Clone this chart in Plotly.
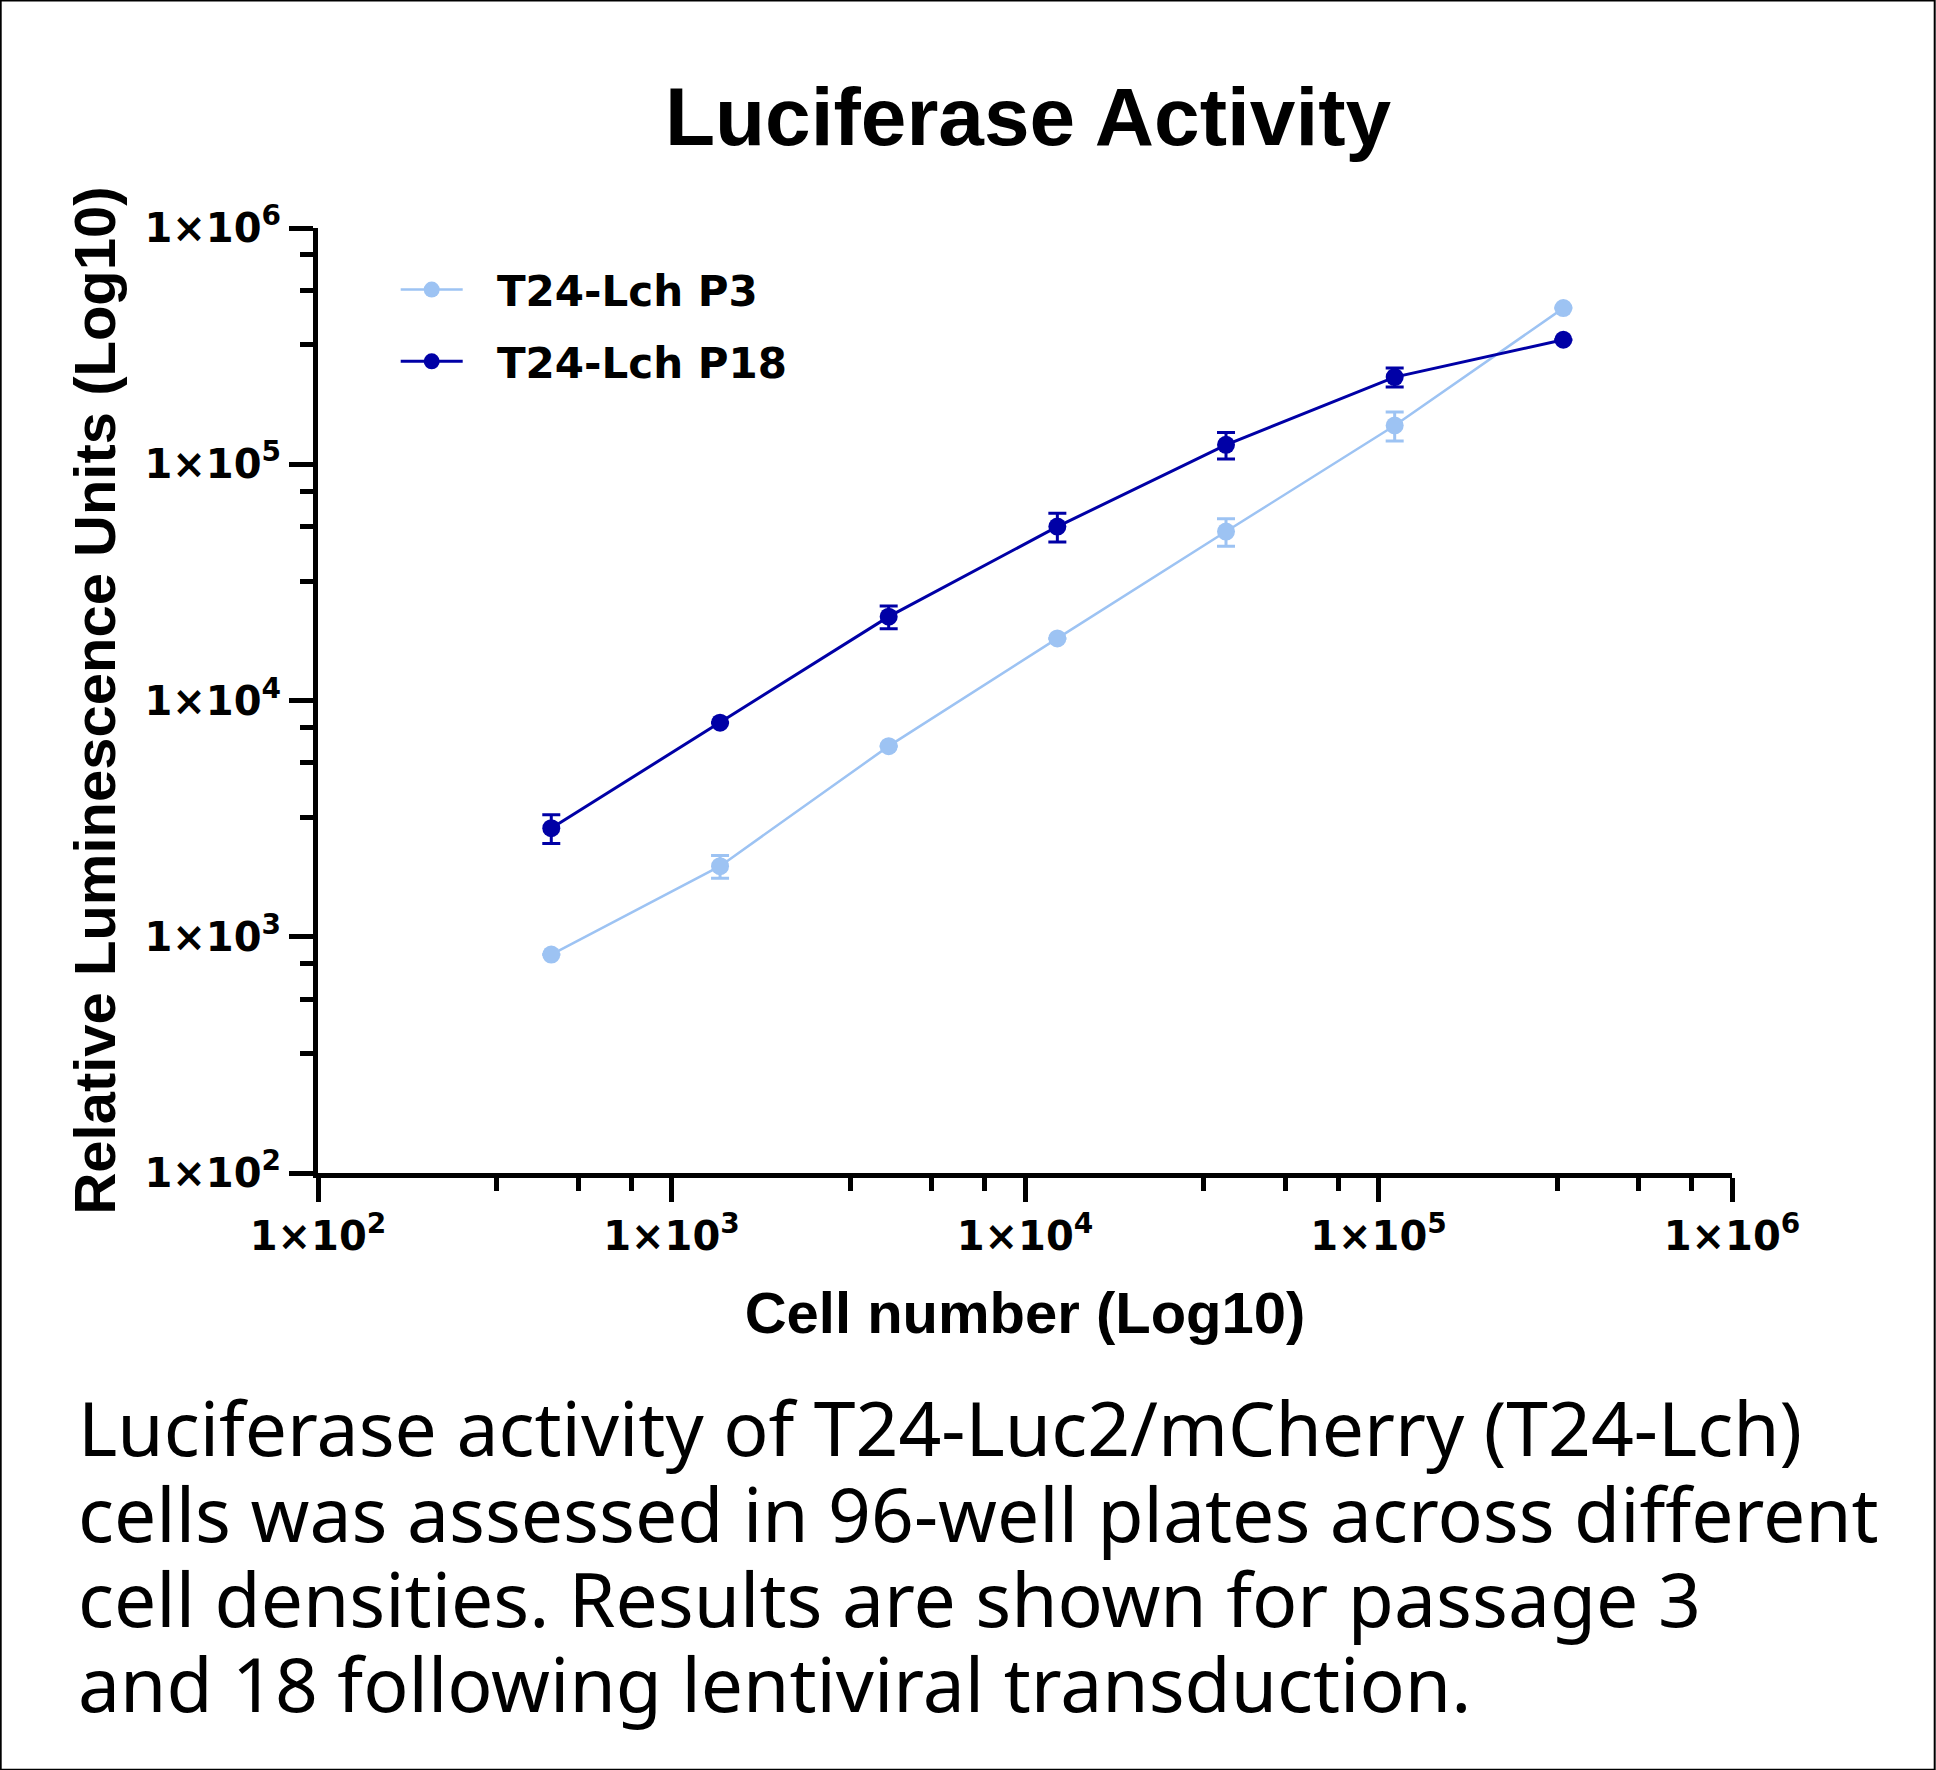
import plotly.graph_objects as go

# cells per well (3-fold dilution series)
cell_number = [457, 1372, 4115, 12346, 37037, 111111, 333333]

# mean RLU and SD, passage 3
p3_mean = [841, 1990, 6410, 18320, 51900, 145900, 458000]
p3_sd = [None, 220, None, None, 6900, 20400, None]

# mean RLU and SD, passage 18
p18_mean = [2880, 8060, 22640, 54450, 120800, 233900, 336500]
p18_sd = [400, None, 2500, 7600, 15600, 21500, None]

tick_vals = [1e2, 1e3, 1e4, 1e5, 1e6]
tick_text = ["1×10<sup>2</sup>", "1×10<sup>3</sup>", "1×10<sup>4</sup>",
             "1×10<sup>5</sup>", "1×10<sup>6</sup>"]
minor_vals = [d * m for d in [1e2, 1e3, 1e4, 1e5] for m in [3.2, 5.45, 7.7]]

caption_lines = [
    "Luciferase activity of T24-Luc2/mCherry (T24-Lch)",
    "cells was assessed in 96-well plates across different",
    "cell densities. Results are shown for passage 3",
    "and 18 following lentiviral transduction.",
]

light = "#9DC3F3"
dark = "#0000A6"

W, H = 1936, 1770
L, R, T, B = 318.3, 1732.3, 228.3, 1172.7


def xp(px):
    return (px - L) / (R - L)


def yp(py):
    return (B - py) / (B - T)


# nbsp padding widens the gap between legend symbol and label
pad = "\u00a0\u00a0"
trace_p3 = go.Scatter(
    x=cell_number, y=p3_mean, name=pad + "T24-Lch P3", mode="lines+markers",
    line=dict(color=light, width=2.5), marker=dict(color=light, size=18),
    error_y=dict(type="data", array=p3_sd, color=light, thickness=3, width=9),
    legend="legend", showlegend=True,
)
trace_p18 = go.Scatter(
    x=cell_number, y=p18_mean, name=pad + "T24-Lch P18", mode="lines+markers",
    line=dict(color=dark, width=3), marker=dict(color=dark, size=18),
    error_y=dict(type="data", array=p18_sd, color=dark, thickness=3, width=9),
    legend="legend2", showlegend=True,
)

tick_font = dict(family="DejaVu Sans", size=40, color="black", weight=700)
title_font = dict(family="Liberation Sans", size=58, color="black", weight=700)
legend_font = dict(family="DejaVu Sans", size=42, color="black", weight=700)

axis_common = dict(
    type="log", range=[2, 6], showgrid=False, zeroline=False,
    showline=True, linecolor="black", linewidth=5,
    ticks="outside", ticklen=24, tickwidth=5, tickcolor="black",
    tickmode="array", tickvals=tick_vals, ticktext=tick_text,
    tickfont=tick_font,
    minor=dict(tickmode="array", tickvals=minor_vals, ticks="outside",
               ticklen=13, tickwidth=5, tickcolor="black"),
)

layout = go.Layout(
    width=W, height=H, showlegend=True,
    margin=dict(l=L, r=W - R, t=T, b=H - B, pad=0, autoexpand=False),
    paper_bgcolor="white", plot_bgcolor="white",
    title=dict(text="Luciferase Activity", x=1028 / W, xanchor="center",
               y=1 - 116 / H, yanchor="middle", yref="container",
               font=dict(family="Liberation Sans", size=82, color="black", weight=700)),
    xaxis=dict(axis_common, title=dict(text="Cell number (Log10)", font=title_font, standoff=36)),
    yaxis=dict(axis_common, title=dict(text="Relative Luminescence Units (Log10)",
                                       font=title_font, standoff=12)),
    legend=dict(x=xp(396), y=yp(290), xanchor="left", yanchor="middle",
                font=legend_font, bgcolor="rgba(0,0,0,0)", itemwidth=62),
    legend2=dict(x=xp(396), y=yp(361.7), xanchor="left", yanchor="middle",
                 font=legend_font, bgcolor="rgba(0,0,0,0)", itemwidth=62),
    shapes=[dict(type="rect", xref="paper", yref="paper",
                 x0=xp(1), x1=xp(W - 1), y0=yp(H - 1), y1=yp(1),
                 line=dict(color="black", width=2))],
)

fig = go.Figure(data=[trace_p3, trace_p18], layout=layout)

for i, line in enumerate(caption_lines):
    fig.add_annotation(
        text=line, xref="paper", yref="paper", x=xp(76), y=yp(1427 + 85 * i),
        xanchor="left", yanchor="middle", showarrow=False, align="left",
        font=dict(family="Noto Sans", size=75, color="black"),
    )

# drop the browser's default 8px body margin so the figure sits at (0, 0)
fig.write_html("out.html", config={"displayModeBar": False},
               post_script="document.body.style.margin='0';")
